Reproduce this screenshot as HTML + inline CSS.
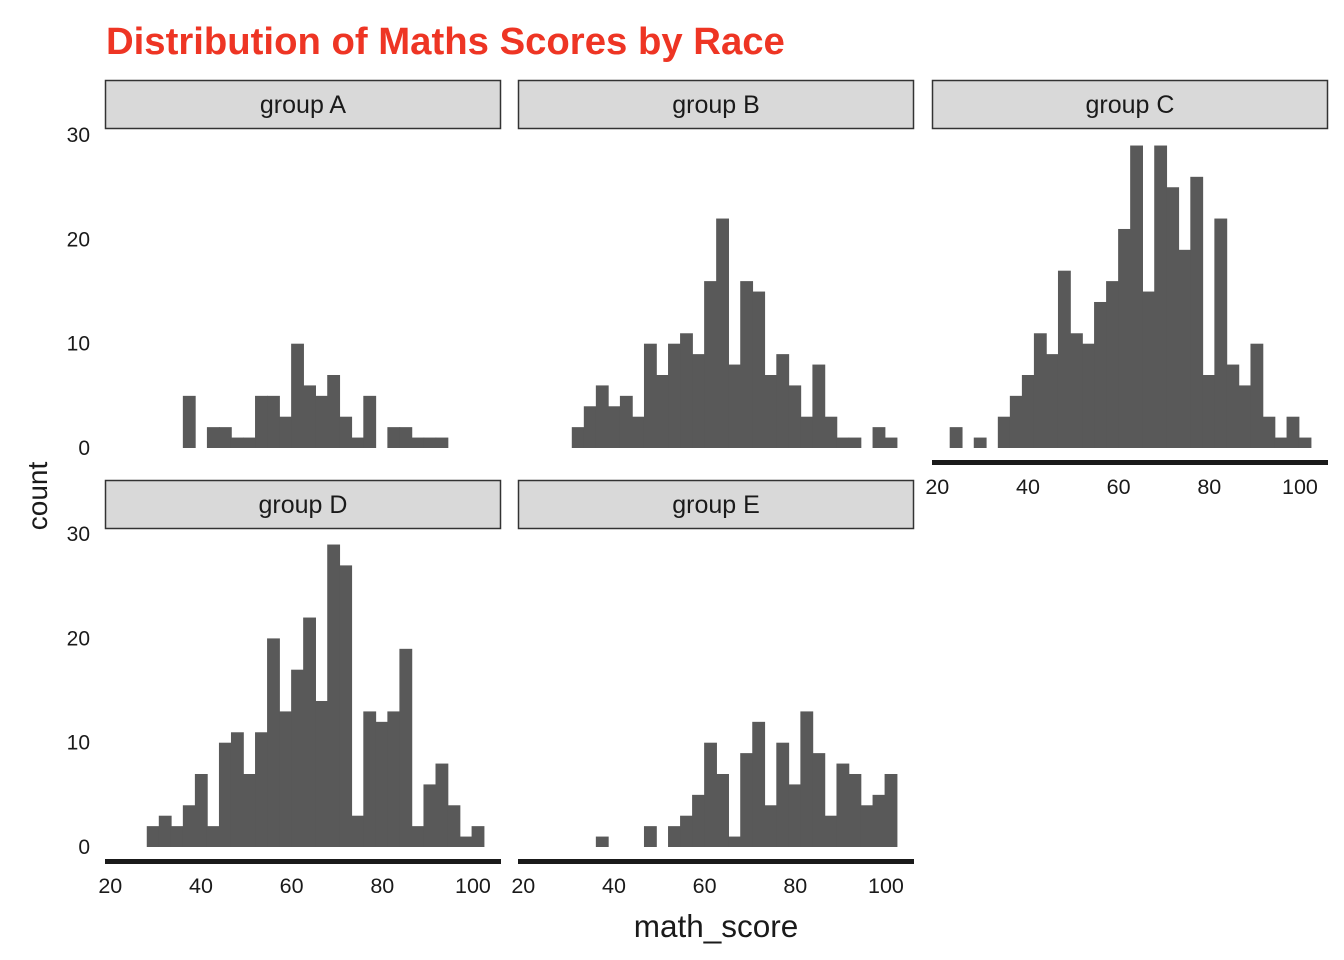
<!DOCTYPE html>
<html><head><meta charset="utf-8"><style>
body{margin:0;background:#fff;}
svg{display:block;font-family:"Liberation Sans",sans-serif;}
</style></head><body>
<svg id="chart" width="1344" height="960">
<text x="106" y="54" font-size="38.3" font-weight="bold" fill="#EE3524">Distribution of Maths Scores by Race</text>
<text transform="translate(47,496) rotate(-90)" text-anchor="middle" font-size="28" fill="#1a1a1a">count</text>
<text x="716" y="937" text-anchor="middle" font-size="31.5" fill="#1a1a1a">math_score</text>
<g id="panels"></g>
</svg>
<script>
const groups = ["group A","group B","group C","group D","group E"];
const countsA = [0,0,0,0,0,5,0,2,2,1,1,5,5,3,10,6,5,7,3,1,5,0,2,2,1,1,1,0,0,0];
const countsB = [0,0,0,2,4,6,4,5,3,10,7,10,11,9,16,22,8,16,15,7,9,6,3,8,3,1,1,0,2,1];
const countsC = [2,0,1,0,3,5,7,11,9,17,11,10,14,16,21,29,15,29,25,19,26,7,22,8,6,10,3,1,3,1];
const countsD = [0,0,2,3,2,4,7,2,10,11,7,11,20,13,17,22,14,29,27,3,13,12,13,19,2,6,8,4,1,2];
const countsE = [0,0,0,0,0,1,0,0,0,2,0,2,3,5,10,7,1,9,12,4,10,6,13,9,3,8,7,4,5,7];
const yTicks = [0,10,20,30];
const xTicks = [20,40,60,80,100];
const binStart = 22.8, binWidth = 2.654;

const allCounts=[countsA,countsB,countsC,countsD,countsE];
const NS="http://www.w3.org/2000/svg";
const root=document.getElementById('panels');
const panelLefts=[105,518,932], panelW=396;
const pxPerUnit=4.533, pxPerCount=10.43;
function mk(tag,attrs,parent){const e=document.createElementNS(NS,tag);for(const k in attrs)e.setAttribute(k,attrs[k]);parent.appendChild(e);return e;}
groups.forEach((g,i)=>{
  const col=i%3,row=Math.floor(i/3);
  const L=panelLefts[col], top=row?480:80, zero=row?847:448;
  const xs=v=>L+18+(v-binStart)*pxPerUnit;
  const ys=c=>zero-c*pxPerCount;
  const grp=mk('g',{},root);
  
  
  const strip=mk('rect',{x:L+0.5,y:top+0.5,width:panelW-1,height:48,fill:'#d9d9d9',stroke:'#333','stroke-width':1.5},grp);
  
  
  const st=mk('text',{x:L+panelW/2,y:top+33,'text-anchor':'middle','font-size':25,fill:'#1a1a1a'},grp);
  st.textContent=g;
  
  
  allCounts[i].forEach((c,b)=>{
    if(!c)return;
    const x0=xs(binStart+b*binWidth), x1=xs(binStart+(b+1)*binWidth);
    const r=mk('rect',{x:x0-0.3,y:ys(c),width:x1-x0+0.8,height:zero-ys(c),fill:'#595959'},grp);
    
    
  });
  if(col===0){
    yTicks.forEach(t=>{
      const tx=mk('text',{x:90,y:ys(t)+7,'text-anchor':'end','font-size':21,fill:'#1a1a1a'},grp);
      tx.textContent=t;
      
      
    });
  }
  const hasX = row===1 || col===2;
  if(hasX){
    const ax=mk('rect',{x:L,y:zero+12,width:panelW,height:5,fill:'#1a1a1a'},grp);
    
    
    xTicks.forEach(t=>{
      const tx=mk('text',{x:xs(t),y:zero+46,'text-anchor':'middle','font-size':21.5,fill:'#1a1a1a'},grp);
      tx.textContent=t;
      
      
    });
  }
});
</script>
</body></html>
